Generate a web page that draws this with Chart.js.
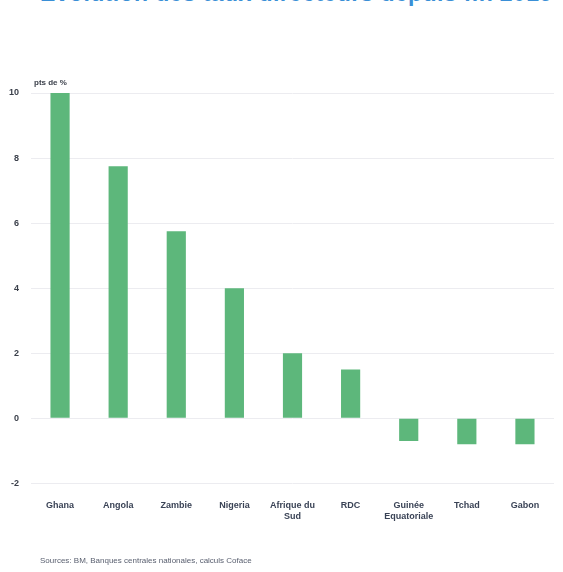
<!DOCTYPE html>
<html><head><meta charset="utf-8">
<script src="https://cdn.jsdelivr.net/npm/chart.js@4"></script>
<style>
html,body{margin:0;padding:0;background:#fff;width:563px;height:572px;overflow:hidden;font-family:"Liberation Sans Narrow","Liberation Sans",Arial,sans-serif;}
#wrap{position:relative;width:563px;height:572px;}
#title{position:absolute;left:40px;top:-20px;font-size:23px;line-height:26px;font-weight:bold;color:#3a8fd6;white-space:nowrap;letter-spacing:0.4px;}
#src{position:absolute;left:40px;top:556px;font-size:8px;color:#5a6070;}
canvas{position:absolute;left:0;top:0;}
</style></head>
<body><div id="wrap">
<div id="title">Évolution des taux directeurs depuis fin 2019</div>
<canvas id="c" width="563" height="572"></canvas>
<div id="src">Sources: BM, Banques centrales nationales, calculs Coface</div>
</div>
<script>
const categories = ["Ghana","Angola","Zambie","Nigeria",["Afrique du","Sud"],"RDC",["Guinée","Equatoriale"],"Tchad","Gabon"];
const values = [10, 7.75, 5.75, 4, 2, 1.5, -0.7, -0.8, -0.8];
const yTicks = [-2, 0, 2, 4, 6, 8, 10];
const unitLabel = "pts de %";

const unitPlugin = {
  id:'unit',
  afterDraw(chart){
    const ctx = chart.ctx, a = chart.chartArea;
    ctx.save();
    ctx.font = 'bold 8px "Liberation Sans Narrow","Liberation Sans",Arial';
    ctx.fillStyle = '#3a3f4a';
    ctx.textBaseline = 'middle';
    ctx.fillText(unitLabel, 34, a.top - 10);
    ctx.restore();
  }
};

new Chart(document.getElementById('c'), {
  type:'bar',
  data:{labels:categories, datasets:[{data:values, backgroundColor:'#5db77b', barPercentage:0.33, categoryPercentage:1}]},
  plugins:[unitPlugin],
  options:{
    responsive:false, animation:false,
    layout:{padding:{top:93, left:0, right:9, bottom:41}},
    plugins:{legend:{display:false}, tooltip:{enabled:false}},
    scales:{
      x:{grid:{display:false}, border:{display:false},
         ticks:{color:'#3a4356', font:{family:'"Liberation Sans Narrow","Liberation Sans",Arial', size:9, weight:'bold'}, maxRotation:0, autoSkip:false, padding:9}},
      y:{min:-2, max:10, border:{display:false},
         afterBuildTicks(s){ s.ticks = yTicks.map(v=>({value:v})); },
         afterFit(s){ s.width = 31; },
         grid:{color:'#ececf0', lineWidth:1, drawTicks:false},
         ticks:{color:'#3a3f4a', padding:12, font:{family:'"Liberation Sans Narrow","Liberation Sans",Arial', size:9, weight:'bold'}}}
    }
  }
});
</script>
</body></html>
